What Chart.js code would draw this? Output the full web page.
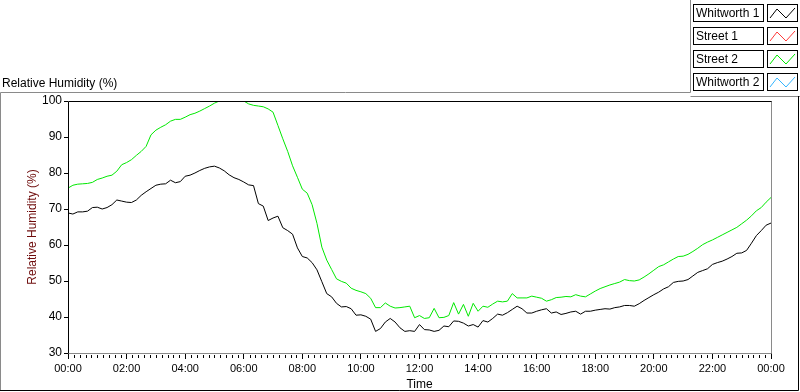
<!DOCTYPE html>
<html>
<head>
<meta charset="utf-8">
<title>Relative Humidity (%)</title>
<script src="https://cdn.jsdelivr.net/npm/chart.js@4.4.1/dist/chart.umd.min.js"></script>
<style>
    html, body { margin: 0; padding: 0; background: #fff; }
    #wrap { position: relative; width: 800px; height: 392px; }
</style>
</head>
<body>
<div id="wrap"><canvas id="humidityChart" width="800" height="392"></canvas></div>
<script>
// Samples every 10 minutes, 00:00 -> 24:00
const STEP_MIN = 10;

const seriesLabels = ['Whitworth 1', 'Street 1', 'Street 2', 'Whitworth 2'];
const seriesColors = ['#000000', '#ff3a3a', '#00e800', '#33b5ff'];

const whitworth1 = [
    68.9, 68.6, 69.2, 69.2, 69.4, 70.4, 70.5, 70.0, 70.4, 71.2, 72.5, 72.2,
    71.9, 71.8, 72.5, 73.8, 74.8, 75.7, 76.6, 76.9, 77.0, 78.0, 77.3, 77.6,
    79.1, 79.4, 80.0, 80.7, 81.3, 81.7, 81.9, 81.4, 80.6, 79.5, 78.7, 78.2,
    77.5, 76.7, 76.5, 71.5, 70.8, 66.8, 67.5, 68.0, 64.8, 64.0, 63.0, 59.2,
    56.8, 56.4, 55.1, 53.1, 49.8, 46.5, 45.6, 43.8, 42.8, 42.9, 42.3, 40.5,
    40.6, 40.2, 39.4, 36.0, 36.8, 38.6, 39.6, 38.6, 37.0, 36.0, 36.2, 36.0,
    37.9, 36.5, 36.4, 36.0, 36.3, 37.5, 37.3, 38.9, 38.8, 38.3, 37.5, 37.9,
    37.2, 39.0, 38.6, 39.6, 40.8, 40.5, 41.2, 42.1, 43.0, 42.3, 41.1, 41.1,
    41.6, 42.0, 42.3, 41.1, 41.4, 40.7, 41.0, 41.4, 41.6, 40.8, 41.6, 41.6,
    41.9, 42.1, 42.3, 42.2, 42.6, 42.8, 43.2, 43.2, 43.0, 43.7, 44.6, 45.4,
    46.2, 46.9, 47.8, 48.4, 49.6, 49.9, 50.0, 50.4, 51.4, 52.4, 52.9, 53.4,
    54.6, 55.1, 55.5, 56.1, 56.8, 57.7, 57.8, 58.5, 60.5, 62.6, 64.0, 65.5,
    66.1
];

const street1 = [];

const street2 = [
    75.8, 76.6, 76.9, 77.0, 77.1, 77.4, 78.2, 78.6, 79.1, 79.4, 80.5, 82.3,
    82.9, 83.7, 84.9, 86.0, 87.4, 90.6, 91.9, 92.7, 93.4, 94.4, 94.9, 94.9,
    95.5, 96.2, 96.6, 97.2, 97.9, 98.6, 99.4, 100, 100, 100, 100, 100,
    100, 99.2, 98.8, 98.6, 98.4, 97.8, 96.9, 93.2, 89.5, 86.0, 82.0, 78.8,
    75.5, 74.4, 71.2, 66.0, 59.4, 55.8, 53.2, 50.6, 49.9, 49.4, 48.0, 47.4,
    47.0, 46.5, 45.2, 42.6, 42.6, 43.9, 43.0, 42.5, 42.6, 42.8, 43.0, 39.8,
    40.4, 39.6, 39.8, 42.4, 39.8, 39.9, 40.4, 44.0, 40.8, 43.5, 40.2, 43.8,
    41.6, 43.0, 42.7, 43.6, 44.4, 44.2, 44.4, 46.5, 45.3, 45.3, 45.3, 45.8,
    45.5, 45.2, 44.4, 44.8, 45.4, 45.5, 45.7, 45.6, 46.2, 45.8, 45.6, 46.4,
    47.2, 47.9, 48.4, 48.9, 49.3, 49.7, 50.4, 50.1, 50.0, 50.3, 51.1, 52.0,
    53.0, 54.0, 54.5, 55.3, 56.1, 56.8, 56.9, 57.4, 58.2, 59.1, 60.1, 60.8,
    61.4, 62.1, 62.8, 63.5, 64.2, 64.9, 65.9, 66.9, 68.1, 69.5, 70.4, 71.9,
    73.2
];

const whitworth2 = [];

const yTicks = [30, 40, 50, 60, 70, 80, 90, 100];
const xMajorMin = 120;   // labelled tick every 2 h
const xMinorMin = 12;    // small tick every 12 min

const FONT = '"Liberation Sans", Arial, sans-serif';

function toPoints(values) {
    return values.map((v, i) => ({ x: i * STEP_MIN, y: v }));
}

function fmtTime(min) {
    const h = Math.floor(min / 60) % 24;
    const m = min % 60;
    return String(h).padStart(2, '0') + ':' + String(m).padStart(2, '0');
}

// Frame, titles, minor ticks and the LabVIEW style legend
const panelPlugin = {
    id: 'panel',
    afterDraw(chart) {
        const ctx = chart.ctx;
        const area = chart.chartArea;
        const xs = chart.scales.x;
        ctx.save();

        // outer frame
        ctx.lineWidth = 1;
        ctx.strokeStyle = '#8a8a8a';
        ctx.beginPath();
        ctx.moveTo(0.5, 390);
        ctx.lineTo(0.5, 92.5);
        ctx.lineTo(690.5, 92.5);
        ctx.lineTo(690.5, 0);
        ctx.stroke();
        ctx.beginPath();
        ctx.moveTo(690.5, 96.5);
        ctx.lineTo(800, 96.5);
        ctx.stroke();
        ctx.strokeStyle = '#000';
        ctx.beginPath();
        ctx.moveTo(0, 390.5);
        ctx.lineTo(798.5, 390.5);
        ctx.lineTo(798.5, 96);
        ctx.stroke();

        // plot border: dark top/left, grey bottom/right
        ctx.strokeStyle = '#8a8a8a';
        ctx.beginPath();
        ctx.moveTo(area.left, area.bottom + 0.5);
        ctx.lineTo(area.right + 0.5, area.bottom + 0.5);
        ctx.lineTo(area.right + 0.5, area.top);
        ctx.stroke();
        ctx.strokeStyle = '#000';
        ctx.beginPath();
        ctx.moveTo(area.left + 0.5, area.bottom + 0.5);
        ctx.lineTo(area.left + 0.5, area.top + 0.5);
        ctx.lineTo(area.right + 0.5, area.top + 0.5);
        ctx.stroke();

        // minor ticks on the time axis
        ctx.strokeStyle = '#000';
        ctx.beginPath();
        for (let t = 0; t <= 1440; t += xMinorMin) {
            if (t % xMajorMin === 0) continue;
            const px = Math.round(xs.getPixelForValue(t)) + 0.5;
            ctx.moveTo(px, area.bottom + 2);
            ctx.lineTo(px, area.bottom + 5);
        }
        ctx.stroke();

        // titles
        ctx.fillStyle = '#000';
        ctx.font = '12px ' + FONT;
        ctx.textAlign = 'left';
        ctx.textBaseline = 'alphabetic';
        ctx.fillText('Relative Humidity (%)', 2, 87);
        ctx.textAlign = 'center';
        ctx.fillText('Time', (area.left + area.right) / 2, 388);

        ctx.save();
        ctx.translate(36, (area.top + area.bottom) / 2);
        ctx.rotate(-Math.PI / 2);
        ctx.fillStyle = '#6e0b0b';
        ctx.fillText('Relative Humidity (%)', 0, 0);
        ctx.restore();

        // legend
        chart.data.datasets.forEach((ds, i) => {
            const top = 4 + i * 23;
            ctx.fillStyle = '#fff';
            ctx.fillRect(693, top, 70, 17);
            ctx.fillRect(767, top, 30, 17);
            ctx.strokeStyle = '#000';
            ctx.strokeRect(693.5, top + 0.5, 70, 17);
            ctx.strokeRect(767.5, top + 0.5, 30, 17);
            ctx.fillStyle = '#000';
            ctx.textAlign = 'left';
            ctx.fillText(ds.label, 696, top + 13);
            ctx.strokeStyle = ds.borderColor;
            ctx.beginPath();
            ctx.moveTo(770, top + 14);
            ctx.lineTo(777, top + 5);
            ctx.lineTo(786, top + 14);
            ctx.lineTo(795, top + 4);
            ctx.stroke();
        });

        ctx.restore();
    }
};

const seriesData = [whitworth1, street1, street2, whitworth2];

const chart = new Chart(document.getElementById('humidityChart'), {
    type: 'line',
    data: {
        datasets: seriesData.map((values, i) => ({
            label: seriesLabels[i],
            data: toPoints(values),
            borderColor: seriesColors[i],
            borderWidth: 1,
            pointRadius: 0,
            tension: 0,
            fill: false
        }))
    },
    options: {
        responsive: false,
        animation: false,
        layout: { padding: { top: 101, right: 29, left: 0, bottom: 0 } },
        plugins: {
            legend: { display: false },
            tooltip: { enabled: false }
        },
        scales: {
            x: {
                type: 'linear',
                min: 0,
                max: 1440,
                afterFit: (scale) => { scale.height = 39; },
                afterBuildTicks: (scale) => {
                    scale.ticks = [];
                    for (let t = 0; t <= 1440; t += xMajorMin) scale.ticks.push({ value: t });
                },
                border: { display: false },
                grid: { drawOnChartArea: false, tickLength: 6, color: '#000' },
                ticks: {
                    padding: 3,
                    maxRotation: 0,
                    autoSkip: false,
                    color: '#000',
                    font: { family: FONT, size: 11 },
                    callback: (v) => fmtTime(v)
                }
            },
            y: {
                min: 30,
                max: 100,
                afterFit: (scale) => { scale.width = 68; },
                afterBuildTicks: (scale) => {
                    scale.ticks = yTicks.map(v => ({ value: v }));
                },
                border: { display: false },
                grid: { drawOnChartArea: false, tickLength: 4, color: '#000' },
                ticks: {
                    padding: 2,
                    color: '#000',
                    font: { family: FONT, size: 12 }
                }
            }
        }
    },
    plugins: [panelPlugin]
});
</script>
</body>
</html>
